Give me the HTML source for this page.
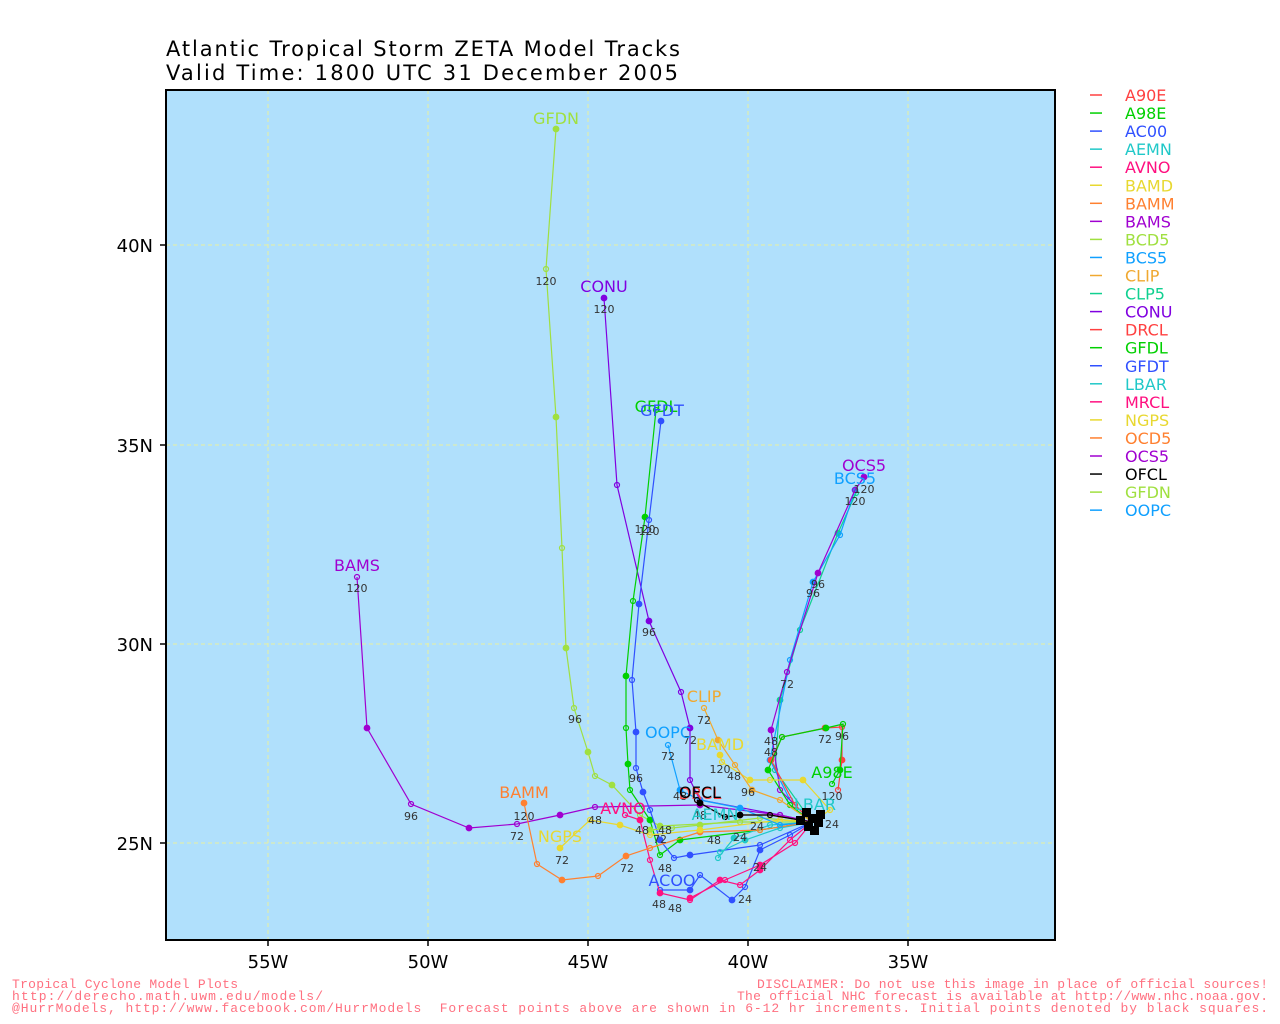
<!DOCTYPE html>
<html><head><meta charset="utf-8"><style>
body{margin:0;background:#fff;width:1280px;height:1024px;overflow:hidden}
svg{display:block}
.sans{font-family:"DejaVu Sans","Liberation Sans",sans-serif}
.mono{font-family:"Liberation Mono",monospace}
</style></head><body>
<svg id="s" width="1280" height="1024" xmlns="http://www.w3.org/2000/svg" class="sans">
<rect x="166" y="90" width="889" height="850" fill="#b0e0fc"/>
<g stroke="#e8f0a0" stroke-width="1" stroke-dasharray="4,3">
<line x1="268" y1="90" x2="268" y2="940"/><line x1="428" y1="90" x2="428" y2="940"/><line x1="588" y1="90" x2="588" y2="940"/><line x1="748" y1="90" x2="748" y2="940"/><line x1="908" y1="90" x2="908" y2="940"/>
<line x1="166" y1="245" x2="1055" y2="245"/><line x1="166" y1="445" x2="1055" y2="445"/><line x1="166" y1="644" x2="1055" y2="644"/><line x1="166" y1="843" x2="1055" y2="843"/>
</g>
<g id="tracks"></g>
<rect x="166" y="90" width="889" height="850" fill="none" stroke="#000" stroke-width="2"/>
<g stroke="#000" stroke-width="1.5">
<line x1="268" y1="940" x2="268" y2="946"/><line x1="428" y1="940" x2="428" y2="946"/><line x1="588" y1="940" x2="588" y2="946"/><line x1="748" y1="940" x2="748" y2="946"/><line x1="908" y1="940" x2="908" y2="946"/>
<line x1="160" y1="245" x2="166" y2="245"/><line x1="160" y1="445" x2="166" y2="445"/><line x1="160" y1="644" x2="166" y2="644"/><line x1="160" y1="843" x2="166" y2="843"/>
</g>
<g font-size="18" fill="#000" text-anchor="middle">
<text x="268" y="968">55W</text><text x="428" y="968">50W</text><text x="588" y="968">45W</text><text x="748" y="968">40W</text><text x="908" y="968">35W</text>
</g>
<g font-size="18" fill="#000" text-anchor="end">
<text x="153" y="252">40N</text><text x="153" y="452">35N</text><text x="153" y="651">30N</text><text x="153" y="850">25N</text>
</g>
<text x="166" y="56" font-size="21" textLength="514" lengthAdjust="spacing">Atlantic Tropical Storm ZETA Model Tracks</text>
<text x="166" y="80" font-size="21" textLength="512" lengthAdjust="spacing">Valid Time: 1800 UTC 31 December 2005</text>
<g id="legend" font-size="16"></g>
<g class="mono" font-size="13" fill="#ff7080">
<text x="12" y="988" textLength="226" lengthAdjust="spacing">Tropical Cyclone Model Plots</text>
<text x="12" y="1000" textLength="311" lengthAdjust="spacing">http://derecho.math.uwm.edu/models/</text>
<text x="12" y="1012" textLength="1256" lengthAdjust="spacing" xml:space="preserve">@HurrModels, http://www.facebook.com/HurrModels  Forecast points above are shown in 6-12 hr increments. Initial points denoted by black squares.</text>
<text x="757" y="988" textLength="511" lengthAdjust="spacing">DISCLAIMER: Do not use this image in place of official sources!</text>
<text x="737" y="1000" textLength="531" lengthAdjust="spacing">The official NHC forecast is available at http://www.nhc.noaa.gov.</text>
</g>
</svg>
<script>
var C={A90E:"#ff4040",A98E:"#00d000",AC00:"#3050ff",AEMN:"#20c8c8",AVNO:"#ff1080",BAMD:"#e8d830",BAMM:"#ff8030",BAMS:"#a000d0",BCD5:"#a0e040",BCS5:"#10a0ff",CLIP:"#f0a830",CLP5:"#10d090",CONU:"#8000e0",DRCL:"#ff4040",GFDL:"#00d000",GFDT:"#3050ff",LBAR:"#20c8c8",MRCL:"#ff1080",NGPS:"#e8d830",OCD5:"#ff8030",OCS5:"#a000d0",OFCL:"#000000",GFDN:"#a0e040",OOPC:"#10a0ff"};
var O=[812,822];
var T=[
["GFDN",[[740,822],[660,826],[640,815],[612,785],[595,776],[588,752],[574,708],[566,648],[562,548],[556,417],[546,269],[556,129]],[556,124],"GFDN"],
["CONU",[[780,815],[700,800],[690,780],[690,728],[681,692],[649,621],[617,485],[604,298]],[604,292],"CONU"],
["BAMS",[[780,815],[700,805],[595,807],[560,815],[517,824],[469,828],[411,804],[367,728],[357,577]],[357,571],"BAMS"],
["GFDL",[[760,830],[680,840],[660,855],[650,820],[630,790],[628,764],[626,728],[626,676],[633,601],[645,517],[656,410]],[656,412],"GFDL"],
["GFDT",[[760,845],[690,855],[674,858],[660,840],[650,810],[643,792],[636,768],[636,732],[632,680],[639,604],[649,520],[661,421]],[662,416],"GFDT"],
["CLP5",[[775,770],[780,700],[800,630],[838,533],[856,493]],null],
["BCS5",[[790,800],[770,760],[790,660],[813,582],[840,535],[855,490]],[855,484],"BCS5"],
["OCS5",[[780,790],[771,730],[787,672],[818,573],[855,490],[864,477]],[864,471],"OCS5"],
["A90E",[[795,805],[771,760],[782,737],[825,728],[842,727],[842,760],[838,790]],null],
["A98E",[[790,805],[768,770],[782,737],[826,728],[843,724],[840,770],[832,784]],[832,778],"A98E"],
["AEMN",[[770,825],[734,838],[718,858]],[715,820],"AEMN"],
["LBAR",[[780,828],[745,840],[720,852]],[815,810],"LBAR"],
["AC00",[[790,835],[760,850],[745,887],[732,900],[700,875],[690,890],[660,890]],[672,886],"ACOO"],
["MRCL",[[795,843],[760,865],[725,880],[690,898]],null],
["AVNO",[[790,840],[760,870],[740,885],[720,880],[690,900],[660,893],[650,860],[640,820],[625,815]],[623,814],"AVNO"],
["BAMD",[[830,810],[803,780],[770,780],[750,780],[722,762],[720,755]],[720,750],"BAMD"],
["CLIP",[[780,800],[752,790],[735,765],[718,740],[704,708]],[704,702],"CLIP"],
["BAMM",[[760,830],[700,832],[650,848],[626,856],[598,876],[562,880],[537,864],[524,803]],[524,798],"BAMM"],
["BCD5",[[760,818],[700,825],[672,828],[650,830]],null],
["NGPS",[[780,820],[700,830],[650,835],[620,825],[590,820],[560,848]],[560,842],"NGPS"],
["OOPC",[[780,825],[740,808],[700,800],[680,790],[668,745]],[668,738],"OOPC"],
["DRCL",[[770,815],[740,815],[725,817],[700,803],[697,800]],[700,799],"DRCL"],
["OFCL",[[770,815],[740,815],[725,817],[700,803],[697,800]],[700,798],"OFCL"]
];
var hrs=[["120",546,285],["120",604,313],["120",357,592],["120",524,820],["96",411,820],["96",649,636],["96",575,723],["96",636,782],["72",517,840],["72",562,864],["72",627,872],["72",704,724],["72",668,760],["72",690,744],["72",825,743],["72",787,688],["96",818,588],["96",813,597],["120",855,505],["120",864,493],["48",771,745],["48",771,756],["48",659,908],["48",675,912],["48",714,844],["48",734,780],["48",665,834],["48",642,834],["24",745,903],["24",760,871],["24",740,864],["24",740,841],["24",832,828],["24",757,830],["96",842,740],["96",748,796],["120",832,800],["120",720,773],["120",649,535],["120",645,533],["48",680,800],["48",700,819],["72",660,843],["48",595,824],["48",665,872]];
var svgns="http://www.w3.org/2000/svg",g=document.getElementById("tracks");
function el(n,a,p){var e=document.createElementNS(svgns,n);for(var k in a)e.setAttribute(k,a[k]);(p||g).appendChild(e);return e;}
T.forEach(function(t){var c=C[t[0]],pts=[O].concat(t[1]);
el("polyline",{points:pts.map(function(p){return p.join(",")}).join(" "),fill:"none",stroke:c,"stroke-width":1.2});
t[1].forEach(function(p,i){el("circle",{cx:p[0],cy:p[1],r:i%2?2.8:2.5,fill:i%2?c:"none",stroke:c,"stroke-width":1.2});});});
hrs.forEach(function(h){var e=el("text",{x:h[1],y:h[2],"font-size":11,fill:"#333","text-anchor":"middle"});e.textContent=h[0];});
T.forEach(function(t){if(t[2]){var e=el("text",{x:t[2][0],y:t[2][1],"font-size":16,fill:C[t[0]],"text-anchor":"middle"});e.textContent=t[3];}});
[[806,812],[812,818],[818,822],[808,826],[814,830],[800,820],[820,814]].forEach(function(p){el("rect",{x:p[0]-4,y:p[1]-4,width:9,height:9,fill:"#000"});});
var L=["A90E","A98E","AC00","AEMN","AVNO","BAMD","BAMM","BAMS","BCD5","BCS5","CLIP","CLP5","CONU","DRCL","GFDL","GFDT","LBAR","MRCL","NGPS","OCD5","OCS5","OFCL","GFDN","OOPC"];
var lg=document.getElementById("legend");
L.forEach(function(n,i){var y=95+i*18.05;el("line",{x1:1090,y1:y,x2:1102,y2:y,stroke:C[n],"stroke-width":1.5},lg);
var e=el("text",{x:1125,y:y+6,fill:C[n]},lg);e.textContent=n;});
</script>
</body></html>
